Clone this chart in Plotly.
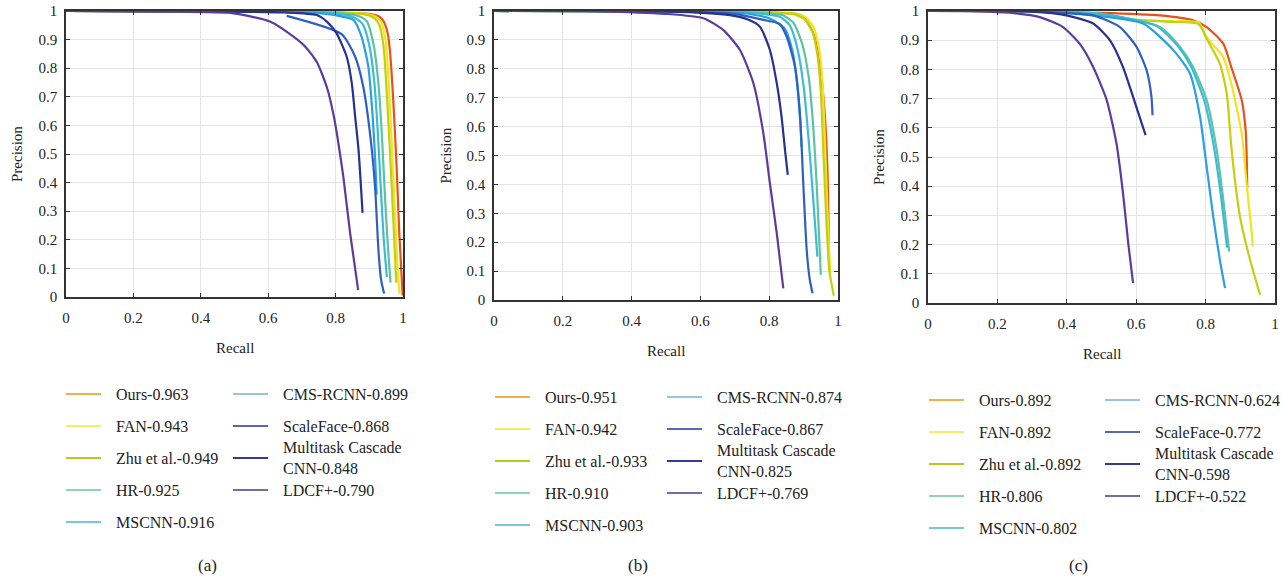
import plotly.graph_objects as go

W, H = 1288, 580

methods = ["Ours", "FAN", "Zhu et al.", "HR", "MSCNN", "CMS-RCNN", "ScaleFace",
           "Multitask Cascade<br>CNN", "LDCF+"]
ap_a = ["0.963", "0.943", "0.949", "0.925", "0.916", "0.899", "0.868", "0.848", "0.790"]
ap_b = ["0.951", "0.942", "0.933", "0.910", "0.903", "0.874", "0.867", "0.825", "0.769"]
ap_c = ["0.892", "0.892", "0.892", "0.806", "0.802", "0.624", "0.772", "0.598", "0.522"]

curve_colors = ["#e8501c", "#f2e41e", "#c4d00c", "#5cc3a2", "#3cbcd4", "#2a9fe2",
                "#2f5fc2", "#283090", "#5b3c9c"]
legend_colors = ["#f2b04c", "#f4ee66", "#b8c820", "#8ed4bc", "#74c8d8", "#98c4e4",
                 "#5868b4", "#323a92", "#7a68a8"]

x_ticks = [0, 0.2, 0.4, 0.6, 0.8, 1]
x_tick_text = ["0", "0.2", "0.4", "0.6", "0.8", "1"]
y_ticks = [0, 0.1, 0.2, 0.3, 0.4, 0.5, 0.6, 0.7, 0.8, 0.9, 1]
y_tick_text = ["0", "0.1", "0.2", "0.3", "0.4", "0.5", "0.6", "0.7", "0.8", "0.9", "1"]

# ---------------- panel (a) ----------------
a_ours_r = [0, 0.5, 0.8, 0.9, 0.93, 0.942, 0.955, 0.961, 0.971, 0.981, 0.989, 0.999]
a_ours_p = [1, 0.999, 0.995, 0.99, 0.98, 0.965, 0.92, 0.864, 0.69, 0.457, 0.224, 0.005]
a_fan_r = [0, 0.5, 0.8, 0.89, 0.92, 0.935, 0.948, 0.955, 0.962, 0.97, 0.978, 0.985, 0.99]
a_fan_p = [1, 0.999, 0.995, 0.99, 0.98, 0.96, 0.9, 0.8, 0.65, 0.45, 0.25, 0.08, 0.01]
a_zhu_r = [0, 0.5, 0.8, 0.88, 0.915, 0.93, 0.942, 0.95, 0.958, 0.966, 0.974, 0.98]
a_zhu_p = [1, 0.999, 0.995, 0.99, 0.975, 0.95, 0.88, 0.75, 0.58, 0.4, 0.2, 0.05]
a_hr_r = [0, 0.5, 0.78, 0.86, 0.892, 0.912, 0.927, 0.937, 0.947, 0.955, 0.963]
a_hr_p = [1, 0.999, 0.995, 0.985, 0.965, 0.887, 0.748, 0.573, 0.34, 0.18, 0.05]
a_mscnn_r = [0, 0.5, 0.76, 0.85, 0.88, 0.9, 0.915, 0.925, 0.935, 0.943, 0.952]
a_mscnn_p = [1, 0.999, 0.995, 0.98, 0.955, 0.88, 0.75, 0.58, 0.36, 0.2, 0.07]
a_cms_r = [0, 0.45, 0.72, 0.8, 0.853, 0.877, 0.897, 0.91, 0.917, 0.922]
a_cms_p = [1, 0.999, 0.995, 0.985, 0.969, 0.91, 0.806, 0.631, 0.491, 0.358]
a_scale_r = [0.655, 0.818, 0.858, 0.882, 0.902, 0.917, 0.927, 0.935, 0.944]
a_scale_p = [0.983, 0.919, 0.84, 0.736, 0.573, 0.387, 0.166, 0.06, 0.012]
a_mtcnn_r = [0, 0.4, 0.65, 0.744, 0.774, 0.803, 0.833, 0.848, 0.858, 0.868, 0.88]
a_mtcnn_p = [1, 0.999, 0.995, 0.986, 0.963, 0.922, 0.84, 0.748, 0.631, 0.515, 0.294]
a_ldcf_r = [0, 0.3, 0.497, 0.605, 0.675, 0.71, 0.745, 0.775, 0.795, 0.808, 0.823, 0.843, 0.867]
a_ldcf_p = [1, 0.998, 0.992, 0.963, 0.91, 0.875, 0.82, 0.73, 0.63, 0.54, 0.42, 0.224, 0.024]

# ---------------- panel (b) ----------------
b_ours_r = [0, 0.5, 0.8, 0.88, 0.899, 0.928, 0.948, 0.962, 0.969, 0.972, 0.974]
b_ours_p = [1, 0.999, 0.995, 0.99, 0.98, 0.923, 0.807, 0.634, 0.461, 0.3, 0.127]
b_fan_r = [0, 0.5, 0.8, 0.88, 0.91, 0.93, 0.945, 0.955, 0.962, 0.968, 0.974, 0.977]
b_fan_p = [1, 0.999, 0.995, 0.99, 0.975, 0.94, 0.87, 0.75, 0.55, 0.35, 0.18, 0.095]
b_zhu_r = [0, 0.5, 0.8, 0.87, 0.905, 0.925, 0.94, 0.95, 0.958, 0.966, 0.975, 0.988]
b_zhu_p = [1, 0.999, 0.995, 0.99, 0.97, 0.93, 0.85, 0.72, 0.5, 0.28, 0.1, 0.015]
b_hr_r = [0, 0.5, 0.75, 0.84, 0.87, 0.895, 0.915, 0.928, 0.938, 0.945, 0.95]
b_hr_p = [1, 0.999, 0.995, 0.985, 0.96, 0.89, 0.77, 0.6, 0.4, 0.22, 0.087]
b_mscnn_r = [0, 0.5, 0.74, 0.83, 0.86, 0.882, 0.9, 0.915, 0.926, 0.934, 0.94]
b_mscnn_p = [1, 0.999, 0.994, 0.98, 0.95, 0.87, 0.74, 0.55, 0.38, 0.25, 0.15]
b_cms_r = [0, 0.5, 0.72, 0.8, 0.845, 0.868, 0.882, 0.89, 0.894]
b_cms_p = [1, 0.999, 0.993, 0.975, 0.94, 0.86, 0.74, 0.62, 0.53]
b_scale_r = [0, 0.5, 0.7, 0.78, 0.83, 0.851, 0.875, 0.89, 0.899, 0.909, 0.918, 0.926]
b_scale_p = [1, 0.999, 0.99, 0.97, 0.955, 0.911, 0.807, 0.634, 0.404, 0.173, 0.07, 0.023]
b_mtcnn_r = [0, 0.5, 0.686, 0.74, 0.773, 0.802, 0.822, 0.836, 0.846, 0.854]
b_mtcnn_p = [1, 0.999, 0.986, 0.97, 0.946, 0.865, 0.75, 0.634, 0.519, 0.433]
b_ldcf_r = [0, 0.3, 0.5, 0.609, 0.667, 0.715, 0.754, 0.783, 0.802, 0.822, 0.841]
b_ldcf_p = [1, 0.999, 0.99, 0.975, 0.934, 0.865, 0.75, 0.577, 0.404, 0.231, 0.04]

# ---------------- panel (c) ----------------
c_ours_r = [0, 0.3, 0.476, 0.668, 0.764, 0.803, 0.851, 0.874, 0.904, 0.916, 0.92]
c_ours_p = [1, 0.999, 0.994, 0.985, 0.968, 0.945, 0.888, 0.808, 0.695, 0.581, 0.393]
c_fan_r = [0, 0.3, 0.476, 0.6, 0.7, 0.78, 0.803, 0.851, 0.874, 0.904, 0.918, 0.933, 0.936]
c_fan_p = [1, 0.999, 0.99, 0.97, 0.965, 0.96, 0.91, 0.842, 0.752, 0.581, 0.41, 0.239, 0.193]
c_zhu_r = [0, 0.3, 0.476, 0.6, 0.7, 0.78, 0.803, 0.841, 0.861, 0.875, 0.899, 0.928, 0.957]
c_zhu_p = [1, 0.999, 0.99, 0.97, 0.963, 0.955, 0.905, 0.82, 0.717, 0.524, 0.296, 0.148, 0.028]
c_hr_r = [0, 0.3, 0.5, 0.668, 0.726, 0.764, 0.803, 0.832, 0.851, 0.868]
c_hr_p = [1, 0.999, 0.99, 0.945, 0.877, 0.808, 0.695, 0.524, 0.353, 0.176]
c_mscnn_r = [0, 0.3, 0.5, 0.66, 0.72, 0.758, 0.797, 0.826, 0.846, 0.862]
c_mscnn_p = [1, 0.999, 0.99, 0.948, 0.88, 0.81, 0.69, 0.52, 0.35, 0.19]
c_cms_r = [0, 0.3, 0.476, 0.62, 0.707, 0.755, 0.784, 0.803, 0.822, 0.841, 0.856]
c_cms_p = [1, 0.999, 0.985, 0.957, 0.866, 0.786, 0.638, 0.467, 0.296, 0.148, 0.051]
c_scale_r = [0, 0.3, 0.476, 0.553, 0.601, 0.63, 0.644, 0.647]
c_scale_p = [1, 0.999, 0.985, 0.945, 0.877, 0.797, 0.706, 0.643]
c_mtcnn_r = [0, 0.3, 0.399, 0.476, 0.524, 0.562, 0.591, 0.627]
c_mtcnn_p = [1, 0.998, 0.985, 0.957, 0.9, 0.808, 0.706, 0.575]
c_ldcf_r = [0, 0.15, 0.236, 0.322, 0.389, 0.437, 0.476, 0.515, 0.543, 0.562, 0.577, 0.591]
c_ldcf_p = [1, 0.999, 0.994, 0.979, 0.945, 0.888, 0.808, 0.695, 0.547, 0.376, 0.205, 0.068]

panel_a = [(a_ours_r, a_ours_p), (a_fan_r, a_fan_p), (a_zhu_r, a_zhu_p), (a_hr_r, a_hr_p),
           (a_mscnn_r, a_mscnn_p), (a_cms_r, a_cms_p), (a_scale_r, a_scale_p),
           (a_mtcnn_r, a_mtcnn_p), (a_ldcf_r, a_ldcf_p)]
panel_b = [(b_ours_r, b_ours_p), (b_fan_r, b_fan_p), (b_zhu_r, b_zhu_p), (b_hr_r, b_hr_p),
           (b_mscnn_r, b_mscnn_p), (b_cms_r, b_cms_p), (b_scale_r, b_scale_p),
           (b_mtcnn_r, b_mtcnn_p), (b_ldcf_r, b_ldcf_p)]
panel_c = [(c_ours_r, c_ours_p), (c_fan_r, c_fan_p), (c_zhu_r, c_zhu_p), (c_hr_r, c_hr_p),
           (c_mscnn_r, c_mscnn_p), (c_cms_r, c_cms_p), (c_scale_r, c_scale_p),
           (c_mtcnn_r, c_mtcnn_p), (c_ldcf_r, c_ldcf_p)]

FONT = "Liberation Serif, Times New Roman, serif"

# pixel geometry of each panel: left, right, top, bottom
boxes = [(66, 403, 11, 297), (494, 838, 11, 300), (928, 1275, 11, 303)]
captions = ["(a)", "(b)", "(c)"]
caption_x = [207, 638, 1078]
legend_cfg = [  # col1 line x0, col2 line x0, first row y
    (66, 233, 394),
    (495, 667, 397),
    (929, 1105, 400),
]
aps = [ap_a, ap_b, ap_c]
panels = [panel_a, panel_b, panel_c]

fig = go.Figure()
layout = dict(width=W, height=H, autosize=False, margin=dict(l=0, r=0, t=0, b=0, pad=0),
              paper_bgcolor="white", plot_bgcolor="white", showlegend=False,
              font=dict(family=FONT, size=15, color="#222"))
shapes, annotations = [], []

for k, (panel, box) in enumerate(zip(panels, boxes)):
    sfx = "" if k == 0 else str(k + 1)
    L, R, T, B = box
    for i, (r, p) in enumerate(panel):
        fig.add_trace(go.Scatter(x=r, y=p, mode="lines", name=methods[i],
                                 line=dict(color=curve_colors[i], width=2.2,
                                           shape="spline", smoothing=0.6),
                                 xaxis="x" + sfx, yaxis="y" + sfx))
    common = dict(showline=True, mirror="ticks", linecolor="#333", linewidth=1.6,
                  ticks="inside", ticklen=4, tickcolor="#333", showgrid=True,
                  gridcolor="#e4e4e4", gridwidth=1, zeroline=False, automargin=False,
                  tickfont=dict(family=FONT, size=15, color="#222"), fixedrange=True)
    layout["xaxis" + sfx] = dict(common, domain=[L / W, R / W], range=[0, 1],
                                 anchor="y" + sfx, tickvals=x_ticks, ticktext=x_tick_text,
                                 ticklabelstandoff=6)
    layout["yaxis" + sfx] = dict(common, domain=[1 - B / H, 1 - T / H], range=[0, 1],
                                 anchor="x" + sfx, tickvals=y_ticks, ticktext=y_tick_text,
                                 ticklabelstandoff=4)
    # axis titles
    annotations.append(dict(text="Recall", x=(L + R) / 2 / W, y=1 - (B + 51) / H,
                            xref="paper", yref="paper", showarrow=False,
                            font=dict(size=15), xanchor="center", yanchor="middle"))
    annotations.append(dict(text="Precision", x=(L - 49) / W, y=1 - ((T + B) / 2) / H,
                            xref="paper", yref="paper", showarrow=False, textangle=-90,
                            font=dict(size=15), xanchor="center", yanchor="middle"))
    # caption
    annotations.append(dict(text=captions[k], x=caption_x[k] / W, y=1 - 565 / H,
                            xref="paper", yref="paper", showarrow=False,
                            font=dict(size=17), xanchor="center", yanchor="middle"))
    # manual two-column legend
    c1, c2, y0 = legend_cfg[k]
    rows = [(c1, 0), (c1, 1), (c1, 2), (c1, 3), (c1, 4),
            (c2, 0), (c2, 1), (c2, 2), (c2, 3)]
    for i, (cx, row) in enumerate(rows):
        yy = y0 + 32 * row
        shapes.append(dict(type="line", xref="paper", yref="paper",
                           x0=cx / W, x1=(cx + 35) / W, y0=1 - yy / H, y1=1 - yy / H,
                           line=dict(color=legend_colors[i], width=2)))
        annotations.append(dict(text=methods[i] + "-" + aps[k][i], x=(cx + 48) / W,
                                y=1 - yy / H, xref="paper", yref="paper",
                                showarrow=False, align="left", xanchor="left",
                                yanchor="middle", font=dict(size=16)))

layout["shapes"] = shapes
layout["annotations"] = annotations
fig.update_layout(**layout)
fig.write_html(
    "out.html",
    config={"displayModeBar": False, "responsive": False},
    post_script=(
        "document.documentElement.style.margin='0';"
        "document.body.style.margin='0';document.body.style.padding='0';"
        "document.documentElement.style.overflow='hidden';"
        "document.body.style.overflow='hidden';"
    ),
)
